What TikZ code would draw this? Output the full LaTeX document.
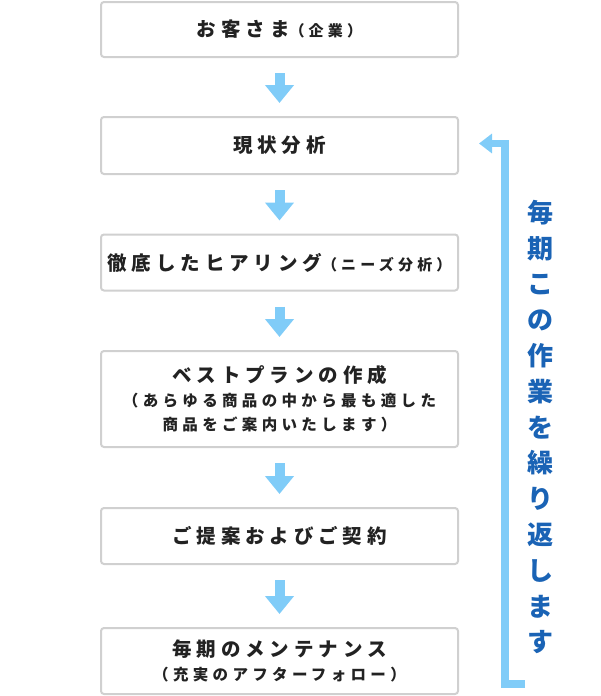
\documentclass[tikz,border=0pt]{standalone}
\usepackage{fontspec}
\usepackage{tikz}
\usetikzlibrary{arrows.meta}
\newfontfamily\jpfont{Noto Sans CJK JP}[LetterSpace=25]
\newfontfamily\jpsmall{Noto Sans CJK JP}[LetterSpace=28]
\newfontfamily\jpvert{Noto Sans CJK JP}
\definecolor{boxgray}{HTML}{D0D0D0}
\definecolor{textgray}{HTML}{222222}
\definecolor{flowblue}{HTML}{80CCF8}
\definecolor{deepblue}{HTML}{1A63B5}
\tikzset{
  stage/.style={draw=boxgray, line width=2pt, rounded corners=3pt, minimum width=357pt,
    align=center, text=textgray, inner sep=0pt,
    font=\jpfont\bfseries\fontsize{19.5}{24}\selectfont},
  flow/.style={draw=flowblue, line width=10pt, -{Triangle[width=28pt,length=18pt]}},
  back/.style={draw=flowblue, line width=7.5pt, line join=miter, -{Triangle[width=19pt,length=13pt]}}
}
\newcommand{\sub}[1]{{\jpsmall\bfseries\fontsize{15}{23}\selectfont #1}}
\newcommand{\subline}[1]{{\jpsmall\bfseries\fontsize{15.5}{23}\selectfont #1}}
\begin{document}
\begin{tikzpicture}[x=1pt,y=1pt]
        \useasboundingbox (0,0) rectangle (600,-696);
        \node[stage, minimum height=55pt] (client) at (279.5,-29.5) {お客さま\sub{（企業）}};
        \node[stage, minimum height=57pt] (analysis) at (279.5,-145.5) {現状分析};
        \node[stage, minimum height=56pt] (hearing) at (279.5,-262.5) {徹底したヒアリング\sub{（ニーズ分析）}};
        \node[stage, minimum height=96pt] (plan) at (279.5,-399) {ベストプランの作成\\
          \subline{（あらゆる商品の中から最も適した}\\
          \subline{商品をご案内いたします）}};
        \node[stage, minimum height=56pt] (contract) at (279.5,-536) {ご提案およびご契約};
        \node[stage, minimum height=66pt] (care) at (279.5,-661) {毎期のメンテナンス\\
          \subline{（充実のアフターフォロー）}};
        \draw[flow] ([yshift=-15pt]client.south) -- ([yshift=13pt]analysis.north);
        \draw[flow] ([yshift=-15pt]analysis.south) -- ([yshift=13pt]hearing.north);
        \draw[flow] ([yshift=-15pt]hearing.south) -- ([yshift=13pt]plan.north);
        \draw[flow] ([yshift=-15pt]plan.south) -- ([yshift=13pt]contract.north);
        \draw[flow] ([yshift=-15pt]contract.south) -- ([yshift=13pt]care.north);
        \coordinate (loopin) at (525,-684);
        \coordinate (loopout) at ([xshift=20pt,yshift=2pt]analysis.east);
        \draw[back] (loopin) -| ([xshift=26pt]loopout) -- (loopout);
        \node[text=deepblue, align=center, inner sep=0pt,
          font=\jpvert\bfseries\fontsize{26}{35.8}\selectfont] (repeat) at (540,-427)
          {毎\\期\\こ\\の\\作\\業\\を\\繰\\り\\返\\し\\ま\\す};
    \end{tikzpicture}
\end{document}
